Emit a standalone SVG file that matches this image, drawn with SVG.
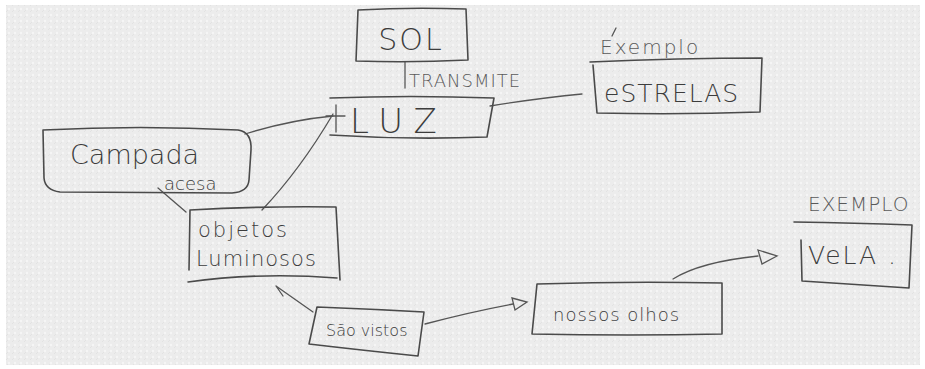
<svg xmlns="http://www.w3.org/2000/svg" width="925" height="369" viewBox="0 0 925 369">
<defs>
<pattern id="bg" width="6" height="6" patternUnits="userSpaceOnUse">
<rect width="6" height="6" fill="#ececec"/>
<circle cx="3" cy="3" r="1.2" fill="#f6f6f6"/>
<path d="M0 6 L2 4" stroke="#e0e0e0" stroke-width="0.8"/>
</pattern>
</defs>
<style>
.b{fill:none;stroke:#4a4a4a;stroke-width:1.6;stroke-linecap:round;stroke-linejoin:round}
.c{fill:none;stroke:#555;stroke-width:1.3;stroke-linecap:round}
.t{font-family:"DejaVu Sans",sans-serif;fill:#3c3c3c;font-weight:300}
.s{font-family:"DejaVu Sans",sans-serif;fill:#5a5a5a;font-weight:300}
</style>
<rect x="0" y="0" width="925" height="369" fill="#ffffff"/>
<rect x="6" y="5" width="914" height="360" fill="url(#bg)"/>

<g id="connectors">
<path class="c" d="M405 62 L405 88"/>
<path class="c" d="M245 134 Q290 120 333 116"/>
<path class="c" d="M262 210 Q300 170 333 114"/>
<path class="c" d="M336 105 L336 132 M326 116 L345 116"/>
<path class="c" d="M490 106 Q540 98 582 94"/>
<path class="c" d="M158 188 L186 212"/>
<path class="c" d="M313 312 L276 286 M276 286 L283 296"/>
<path class="c" d="M425 324 Q470 312 513 304"/>
<path class="c" d="M512 298 L527 302 L515 310 Z"/>
<path class="c" d="M673 279 Q700 262 758 256"/>
<path class="c" d="M758 250 L777 256 L762 264 Z"/>
<path class="c" d="M612 36 L616 28"/>
</g>

<g id="sol">
<path class="b" d="M358 10 Q410 7 466 9 L468 60 Q410 63 356 61 Z"/>
<text class="t" x="411" y="50" font-size="30" text-anchor="middle" letter-spacing="2">SOL</text>
</g>

<g id="transmite">
<text class="s" x="409" y="87" font-size="18" letter-spacing="1">TRANSMITE</text>
</g>

<g id="luz">
<path class="b" d="M330 98 Q410 95 494 98 L487 137 Q410 140 330 135"/>
<text class="t" x="350" y="133" font-size="34" letter-spacing="11">LUZ</text>
</g>

<g id="exemplo1">
<text class="s" x="600" y="54" font-size="20" letter-spacing="2">Exemplo</text>
</g>

<g id="estrelas">
<path class="b" d="M590 62 Q680 58 762 58 L760 112 Q680 115 597 113 L593 65"/>
<text class="t" x="604" y="102" font-size="25" letter-spacing="1">eSTRELAS</text>
</g>

<g id="campada">
<path class="b" d="M43 130 Q140 125 238 130 Q252 132 251 150 L249 180 Q248 192 232 193 L60 192 Q45 190 44 178 Z"/>
<text class="t" x="70" y="164" font-size="27">Campada</text>
<text class="t" x="164" y="190" font-size="18">acesa</text>
</g>

<g id="objetos">
<path class="b" d="M190 210 Q260 206 336 207 L340 280 M190 210 L189 270 M188 282 Q260 272 337 278"/>
<text class="t" x="198" y="237" font-size="21" letter-spacing="2">objetos</text>
<text class="t" x="196" y="266" font-size="21" letter-spacing="1">Luminosos</text>
</g>

<g id="saovistos">
<path class="b" d="M317 307 Q370 309 424 312 L418 356 Q360 350 309 344 Z"/>
<text class="t" x="326" y="336" font-size="16">São vistos</text>
</g>

<g id="nossosolhos">
<path class="b" d="M537 284 Q630 281 722 283 L722 334 Q630 336 532 334 Z"/>
<text class="t" x="553" y="321" font-size="18" letter-spacing="1">nossos olhos</text>
</g>

<g id="exemplo2">
<text class="s" x="808" y="211" font-size="20" letter-spacing="1">EXEMPLO</text>
</g>

<g id="vela">
<path class="b" d="M794 222 Q855 223 912 225 L909 288 Q860 285 802 281 L801 240"/>
<text class="t" x="808" y="264" font-size="25" letter-spacing="2">VeLA .</text>
</g>
</svg>
